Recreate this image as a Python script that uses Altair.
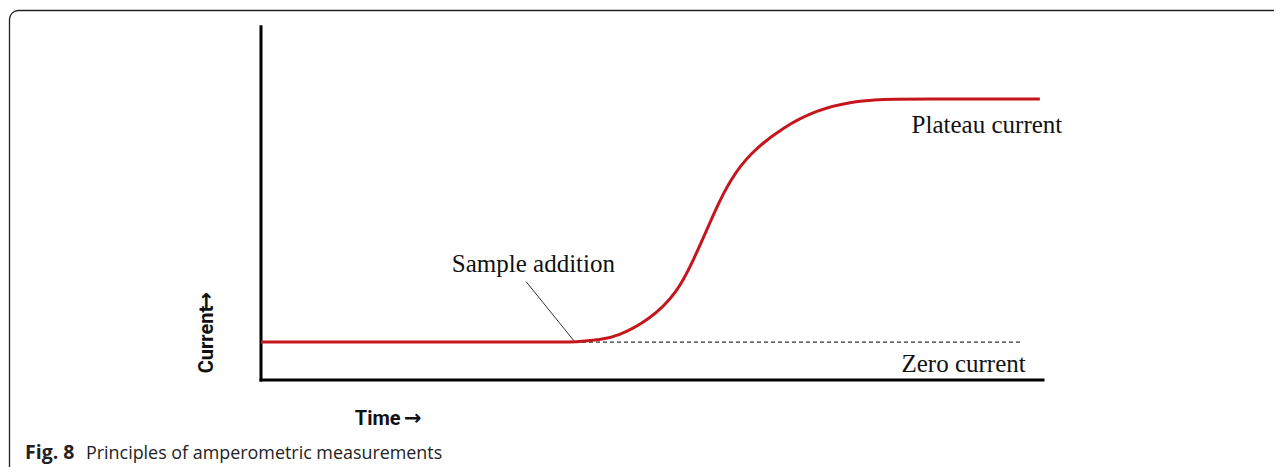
import altair as alt
import pandas as pd

# ---------------- data ----------------
time_pts = [0, 38.0, 40.15, 43.5, 45.5, 49.7, 53.2, 55.3, 57.0, 58.3, 60.0, 62.5, 66.8, 71.1, 75.3, 79.6, 84.0, 99.6]
current_pts = [13.5, 13.5, 13.5, 14.4, 15.4, 21.4, 30.9, 42.7, 53.4, 61.7, 71.2, 80.7, 90.1, 96.1, 99.0, 100, 100, 100]

zero_current = 13.5
sample_time = 40.15
zero_line_end = 97.3
axis_time_end = 100
axis_current_top = 125.7
leader_start_time = 33.9
leader_start_current = 35.0

label_text = ["Sample addition", "Plateau current", "Zero current"]
label_time = [24.4, 83.2, 81.9]
label_current = [38.5, 87.8, 2.95]

x_title = "Time"
x_title_time = 12.0
x_title_current = -16.0
x_arrow_time = 20.55
y_title = "Current"
y_title_time = -6.9
y_title_current = 2.4
y_arrow_current = 31.4
arrow = "\u2192"

caption_bold = "Fig. 8"
caption_rest = "Principles of amperometric measurements"

# ---------------- layout ----------------
W, H = 1266, 459
X0_PX, X100_PX = 253, 1035
Y0_PX, Y100_PX = 372, 91
kx = (X100_PX - X0_PX) / 100
ky = (Y0_PX - Y100_PX) / 100
x_dom = [-X0_PX / kx, (W - X0_PX) / kx]
y_dom = [(Y0_PX - H) / ky, Y0_PX / ky]
xs = alt.Scale(domain=x_dom, nice=False, zero=False)
ys = alt.Scale(domain=y_dom, nice=False, zero=False)

RED = "#c4161c"
SERIF = "Liberation Serif"
NARROW = "Roboto"
ARROW_FONT = "DejaVu Sans"
CAP_FONT = "Open Sans"

def X(field):
    return alt.X(field, type="quantitative", scale=xs, axis=None)

def Y(field):
    return alt.Y(field, type="quantitative", scale=ys, axis=None)

# border frame (decoration)
frame_df = pd.DataFrame({"k": [0]})
frame = alt.Chart(frame_df).mark_rect(
    fill="transparent", stroke="#222222", strokeWidth=1.3, cornerRadius=9
).encode(x=alt.value(1.5), y=alt.value(2.5), x2=alt.value(1500), y2=alt.value(800))

# axes lines
axes_df = pd.DataFrame({
    "t": [0, 0], "c": [0, 0],
    "t2": [0, axis_time_end], "c2": [axis_current_top, 0],
})
axes = alt.Chart(axes_df).mark_rule(color="black", strokeWidth=3, strokeCap="square").encode(
    x=X("t"), y=Y("c"), x2="t2", y2="c2"
)

# zero-current dashed line
zero_df = pd.DataFrame({"t": [sample_time], "t2": [zero_line_end], "c": [zero_current]})
zero = alt.Chart(zero_df).mark_rule(color="#333333", strokeWidth=1.2, strokeDash=[4, 3]).encode(
    x=X("t"), x2="t2", y=Y("c")
)

# leader line for "Sample addition"
lead_df = pd.DataFrame({"t": [leader_start_time], "c": [leader_start_current],
                        "t2": [sample_time], "c2": [zero_current]})
leader = alt.Chart(lead_df).mark_rule(color="#333333", strokeWidth=1).encode(
    x=X("t"), y=Y("c"), x2="t2", y2="c2"
)

# current curve
curve_df = pd.DataFrame({"t": time_pts, "c": current_pts})
curve = alt.Chart(curve_df).mark_line(color=RED, strokeWidth=3, interpolate="basis").encode(
    x=X("t"), y=Y("c")
)

# annotation labels
lab_df = pd.DataFrame({"t": label_time, "c": label_current, "txt": label_text})
labels = alt.Chart(lab_df).mark_text(
    font=SERIF, fontSize=25, align="left", baseline="alphabetic", color="#111111"
).encode(x=X("t"), y=Y("c"), text="txt:N")

# axis titles
xt_df = pd.DataFrame({"t": [x_title_time], "c": [x_title_current], "txt": [x_title]})
xtitle = alt.Chart(xt_df).mark_text(
    font=NARROW, fontSize=20, fontWeight="bold", align="left", baseline="alphabetic", color="#111111"
).encode(x=X("t"), y=Y("c"), text="txt:N")
xa_df = pd.DataFrame({"t": [x_arrow_time], "c": [x_title_current], "txt": [arrow]})
xarrow = alt.Chart(xa_df).mark_text(
    font=ARROW_FONT, fontSize=21, fontWeight="bold", align="right", baseline="alphabetic", color="#111111"
).encode(x=X("t"), y=Y("c"), text="txt:N")

yt_df = pd.DataFrame({"t": [y_title_time], "c": [y_title_current], "txt": [y_title]})
ytitle = alt.Chart(yt_df).mark_text(
    font=NARROW, fontSize=20, fontWeight="bold", align="left", baseline="middle",
    angle=270, color="#111111"
).encode(x=X("t"), y=Y("c"), text="txt:N")
ya_df = pd.DataFrame({"t": [y_title_time], "c": [y_arrow_current], "txt": [arrow]})
yarrow = alt.Chart(ya_df).mark_text(
    font=ARROW_FONT, fontSize=21, fontWeight="bold", align="right", baseline="middle",
    angle=270, color="#111111"
).encode(x=X("t"), y=Y("c"), text="txt:N")

# caption
cap_df = pd.DataFrame({"txt": [caption_bold]})
cap1 = alt.Chart(cap_df).mark_text(
    font=CAP_FONT, fontSize=19.5, fontWeight="bold", align="left", baseline="alphabetic", color="#222222"
).encode(x=alt.value(17), y=alt.value(451), text="txt:N")
cap_df2 = pd.DataFrame({"txt": [caption_rest]})
cap2 = alt.Chart(cap_df2).mark_text(
    font=CAP_FONT, fontSize=17.9, align="left", baseline="alphabetic", color="#222222"
).encode(x=alt.value(78), y=alt.value(451), text="txt:N")

chart = alt.layer(
    frame, axes, zero, leader, curve, labels, xtitle, xarrow, ytitle, yarrow, cap1, cap2
).properties(
    width=W, height=H, padding=0,
    autosize=alt.AutoSizeParams(type="none"),
    background="white",
).configure_view(strokeWidth=0)

chart.save("out.html", embed_options={"renderer": "svg", "actions": False})
